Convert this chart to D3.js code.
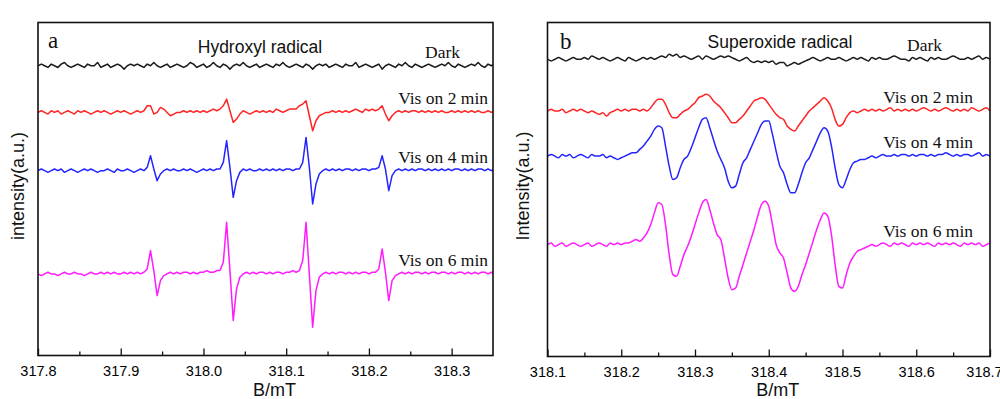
<!DOCTYPE html>
<html>
<head>
<meta charset="utf-8">
<script src="https://cdn.jsdelivr.net/npm/d3@7"></script>
<style>
  body { margin: 0; background: #fff; }
  svg { display: block; }
  .tick text { font-family: "Liberation Sans", Arial, sans-serif; font-size: 14.5px; fill: #000; }
  .tick line { stroke: #111; stroke-width: 1.3; }
  .sans { font-family: "Liberation Sans", Arial, sans-serif; fill: #111; }
  .serif { font-family: "Liberation Serif", "Times New Roman", serif; fill: #111; }
</style>
</head>
<body>
<svg id="chart" width="1000" height="399"></svg>
<script>
// ---- panel a: hydroxyl radical (DMPO-OH), sweep 317.8 mT, 0.004 mT per point
const fieldStartA = 317.8;
const fieldStepA = 0.004;
const seriesNames = ["Dark", "Vis on 2 min", "Vis on 4 min", "Vis on 6 min"];
const seriesColors = ["#1a1a1a", "#ff2424", "#2424ff", "#ff1aff"];
const offsetsA = [174, 146, 111, 49];
const darkA = [
  0, 1, 0, -1, 1, 0, -1, 1, 2, 0,
  -1, 0, 1, 0, -1, 1, 0, 0, 2, -1,
  0, 1, -1, 0, 1, 0, -2, 0, 1, 0,
  1, 0, -1, 1, 0, 2, 0, -1, 0, 1,
  -1, 0, 1, 0, -1, 0, 2, 1, -1, 0,
  1, -1, 0, 2, 0, -1, 1, 0, -2, 0,
  1, 0, 2, 0, -1, 0, 1, -1, 0, 1,
  0, -1, 1, 0, 2, 0, -1, 0, 1, 0,
  -1, 1, 0, -2, 0, 1, 0, 1, -1, 0,
  1, 0, -1, 1, 0, 0, 2, -1, 0, 1,
  0, -1, 0, 1, -2, 0, 1, 0, -1, 1,
  0, 2, 0, -1, 1, 0, -1, 0, 1, 0,
  -1, 0, 1, 0, 2, 0, -1, 1, 0, -1,
  0, 1, 0, 2, 0, -1, 1, 0, 1
];
const vis2A = [
  0, 1, 0, -1, 1, 0, 1, -1, 0, 1,
  0, -1, 1, 0, 1, 0, -1, 0, 1, 0,
  1, 0, -1, 0, 1, 0, 1, 0, -1, 0,
  1, 0, 1, 4, 4, -1, 0, 3, 2, 0,
  -2, -1, 0, 0, 1, 0, 1, 0, 1, 0,
  1, 0, 1, 2, 1, 2, 4, 8, 1, -6,
  -4, -1, 1, 0, -1, 0, 1, 0, 1, 0,
  1, 0, 2, 1, 0, 1, 2, 2, 2, 4,
  5, 7, -2, -11, -5, -2, -1, 0, 0, 1,
  0, 1, 0, 1, 0, 1, 2, 1, 0, 2,
  1, 2, 1, 2, 4, -1, -5, -2, 0, 1,
  0, 1, 0, 1, 1, 0, 1, 0, 1, 0,
  1, 0, 1, 0, 0, 1, 0, 1, 0, 1,
  0, 1, 0, 1, 0, 0, 1, 0, 1
];
const vis4A = [
  0, 1, 0, -1, 0, 1, 0, 1, -1, 0,
  1, 0, -1, 0, 1, 0, 1, 0, -1, 0,
  0, 1, 0, -1, 1, 0, 0, 1, 0, -1,
  0, 1, 0, 2, 9, 1, -6, -2, 0, 1,
  0, 1, 0, 0, 1, 0, 1, 0, -1, 0,
  1, 0, 1, 0, 1, 1, 5, 18, 2, -16,
  -6, -1, 1, 0, 1, 0, 0, 1, 0, 1,
  0, 1, 0, 1, 0, 1, 1, 0, 1, 1,
  5, 20, 2, -20, -8, -2, 0, 1, 0, 1,
  0, 1, 0, 1, 1, 0, 1, 0, 1, 1,
  0, 1, 1, 2, 9, 1, -12, -3, 0, 1,
  0, 1, 0, 1, 0, 1, 1, 0, 1, 0,
  1, 0, 1, 0, 1, 0, 1, 1, 0, 1,
  0, 1, 0, 1, 1, 0, 1, 0, 1
];
const vis6A = [
  0, -1, 0, 1, 0, 0, -1, 0, 1, 0,
  0, 1, 0, 0, -1, 0, 1, 0, 0, 1,
  0, 1, 0, 1, 0, 0, 1, 0, 1, 0,
  1, 0, 1, 3, 14, 2, -13, -4, -1, 0,
  1, 0, 1, 0, 1, 1, 0, 1, 0, 1,
  1, 2, 1, 1, 2, 2, 7, 31, 2, -28,
  -9, -2, 0, 1, 0, 1, 0, 1, 1, 0,
  1, 0, 1, 1, 0, 1, 1, 2, 1, 2,
  8, 31, 0, -32, -10, -2, 0, 1, 0, 1,
  0, 1, 1, 0, 1, 0, 1, 0, 1, 1,
  0, 1, 1, 3, 15, 1, -16, -4, -1, 0,
  1, 0, 1, 0, 1, 1, 0, 1, 0, 1,
  1, 0, 1, 1, 0, 1, 0, 1, 1, 0,
  1, 0, 1, 0, 1, 1, 0, 1, 0
];
const ticksA = [317.8, 317.9, 318.0, 318.1, 318.2, 318.3];
const minorTicksA = [317.85, 317.95, 318.05, 318.15, 318.25];

// ---- panel b: superoxide radical (DMPO-OOH), sweep 318.1 mT, 0.005 mT per point
const fieldStartB = 318.1;
const fieldStepB = 0.005;
const offsetsB = [178, 147, 120, 67];
const darkB = [
  0, -1, 0, 1, 0, -1, 0, 1, 0, 0,
  1, 0, 2, 1, 0, 1, 0, -1, 0, 1,
  0, -1, 1, 0, -1, 0, 1, 0, 1, 0,
  1, 2, 1, 3, 2, 3, 1, 2, 1, 0,
  1, 2, 0, 2, 1, 0, 1, 2, 1, 2,
  1, 0, -1, 0, 1, -1, -2, -1, -2, -1,
  -2, -1, -3, -2, -2, -4, -3, -2, -3, -2,
  -1, 0, 1, 0, -1, 0, 1, 0, 0, 1,
  0, -1, 0, 1, 0, 1, 0, -1, 1, 0,
  1, 0, 0, 1, 2, 1, 0, 0, -1, 1,
  0, 1, 0, -1, 1, 0, 1, 0, 0, 1,
  2, 1, 0, 0, 1, 0, 1, 2, 0, 1, 0
];
const vis2B = [
  0, 1, 0, 0, 1, -1, 0, 1, 0, 1,
  0, -1, 0, -1, -2, -1, -3, -1, 0, 1,
  0, 1, 0, 1, 1, 0, 1, 0, 2, 5,
  7, 7, 4, -1, -4, -4, -2, 0, 1, 3,
  5, 8, 9, 10, 9, 6, 4, 2, -1, -4,
  -7, -7, -5, -3, 0, 3, 6, 7, 8, 7,
  4, 1, -2, -4, -5, -9, -11, -12, -9, -6,
  -3, 0, 2, 4, 6, 8, 6, 2, -5, -9,
  -8, -4, -1, 0, -1, 0, 1, 0, 1, 0,
  1, 0, 1, 2, 0, 1, 0, 1, 0, 1,
  0, 1, 2, 1, 0, 1, 0, 1, 2, 1,
  0, 1, 0, 1, 0, 2, 1, 0, 1, 2, 0
];
const vis4B = [
  0, 1, 0, -1, 1, 0, 1, -1, 0, 1,
  0, -1, 1, 0, 0, 1, -1, 0, -1, -2,
  -1, 0, 1, 2, 2, 4, 6, 9, 12, 16,
  18, 17, 6, -6, -14, -13, -7, -2, 0, 5,
  11, 17, 22, 23, 17, 10, 3, -2, -7, -15,
  -19, -18, -11, -4, -1, 4, 9, 14, 19, 21,
  21, 13, 3, -6, -10, -17, -22, -22, -17, -10,
  -4, -1, 4, 9, 14, 17, 15, 6, -7, -17,
  -19, -14, -8, -4, -3, -2, -2, -1, 0, -1,
  0, 1, 0, 0, 1, 0, 1, 1, 0, 1,
  0, 1, 1, 0, 1, 0, 1, 1, 2, 1,
  0, 1, 0, 1, 1, 0, 1, 2, 0, 1, 0
];
const vis6B = [
  0, 1, -1, 0, 1, -1, 0, 1, 0, -1,
  0, 1, -1, 0, 1, 0, -1, 1, 0, 1,
  0, 1, 1, 2, 3, 2, 4, 7, 12, 19,
  25, 24, 12, -6, -18, -19, -13, -6, -1, 5,
  12, 19, 25, 27, 21, 13, 6, 3, -8, -20,
  -27, -26, -19, -12, -5, 2, 9, 17, 24, 26,
  23, 12, 0, -5, -8, -17, -26, -28, -25, -18,
  -12, -5, 2, 9, 15, 19, 17, 6, -12, -25,
  -26, -18, -11, -7, -4, -3, -2, -1, 0, -1,
  0, 1, 0, -1, 1, 0, 1, 0, -1, 1,
  0, 1, 0, 1, 0, -1, 1, 0, 1, 0,
  1, 0, -1, 1, 0, 1, 0, 1, -1, 0, 1
];
const ticksB = [318.1, 318.2, 318.3, 318.4, 318.5, 318.6, 318.7];
const minorTicksB = [318.15, 318.25, 318.35, 318.45, 318.55, 318.65];

const panels = [
  {
    id: "a", letter: "a", title: "Hydroxyl radical", yTitle: "intensity(a.u.)",
    start: fieldStartA, step: fieldStepA, domain: [317.8, 318.35],
    offsets: offsetsA, series: [darkA, vis2A, vis4A, vis6A],
    ticks: ticksA, minor: minorTicksA, curve: d3.curveLinear,
    box: { left: 38, right: 493, top: 22.5, bottom: 355.5 },
    letterX: 48, letterY: 48, titleX: 260, titleY: 53, yTitleX: 18,
    labelRight: 488, darkRight: 460
  },
  {
    id: "b", letter: "b", title: "Superoxide radical", yTitle: "Intensity(a.u.)",
    start: fieldStartB, step: fieldStepB, domain: [318.1, 318.7],
    offsets: offsetsB, series: [darkB, vis2B, vis4B, vis6B],
    ticks: ticksB, minor: minorTicksB, curve: d3.curveMonotoneX,
    box: { left: 547.5, right: 990, top: 22.5, bottom: 356.5 },
    letterX: 560, letterY: 49, titleX: 780, titleY: 48, yTitleX: 523,
    labelRight: 973, darkRight: 942
  }
];

const svg = d3.select("#chart");

panels.forEach(p => {
  const b = p.box;
  const x = d3.scaleLinear().domain(p.domain).range([b.left, b.right]);
  const y = d3.scaleLinear().domain([0, 200]).range([b.bottom, b.top]);
  const g = svg.append("g").attr("id", "panel-" + p.id);

  g.append("clipPath").attr("id", "clip-" + p.id)
    .append("rect")
    .attr("x", b.left).attr("y", b.top)
    .attr("width", b.right - b.left).attr("height", b.bottom - b.top);

  // spectra
  p.series.forEach((vals, k) => {
    const line = d3.line()
      .x((d, i) => x(p.start + i * p.step))
      .y(d => y(p.offsets[k] + d))
      .curve(p.curve);
    g.append("path")
      .attr("clip-path", `url(#clip-${p.id})`)
      .attr("d", line(vals))
      .attr("fill", "none")
      .attr("stroke", seriesColors[k])
      .attr("stroke-width", 1.5)
      .attr("stroke-linejoin", "round");
  });

  // inward ticks, major then minor
  const axis = g.append("g").attr("transform", `translate(0,${b.bottom})`);
  axis.call(d3.axisBottom(x).tickValues(p.ticks).tickSize(-7).tickPadding(10)
    .tickFormat(d3.format(".1f")));
  axis.append("g").call(d3.axisBottom(x).tickValues(p.minor).tickSize(-4).tickFormat(""));
  axis.selectAll(".domain").remove();
  // last label of panel b sits partly past the page edge, as in the source
  if (p.id === "b") axis.selectAll(".tick text").filter(d => d === 318.7).attr("dx", -6);

  // frame
  g.append("rect")
    .attr("x", b.left).attr("y", b.top)
    .attr("width", b.right - b.left).attr("height", b.bottom - b.top)
    .attr("fill", "none").attr("stroke", "#111").attr("stroke-width", 1.6);

  // texts
  g.append("text").attr("class", "serif")
    .attr("x", p.letterX).attr("y", p.letterY)
    .style("font-size", "23px").text(p.letter);
  g.append("text").attr("class", "sans")
    .attr("x", p.titleX).attr("y", p.titleY)
    .attr("text-anchor", "middle").style("font-size", "17.5px").text(p.title);
  g.append("text").attr("class", "sans")
    .attr("transform", `translate(${p.yTitleX},186) rotate(-90)`)
    .attr("text-anchor", "middle").attr("dy", "0.35em")
    .style("font-size", "18px").text(p.yTitle);
  g.append("text").attr("class", "sans")
    .attr("x", (b.left + b.right) / 2 + 9).attr("y", 396)
    .attr("text-anchor", "middle").style("font-size", "18px").text("B/mT");

  seriesNames.forEach((name, k) => {
    g.append("text").attr("class", "serif")
      .attr("x", k === 0 ? p.darkRight : p.labelRight)
      .attr("y", y(p.offsets[k]) - 8)
      .attr("text-anchor", "end")
      .style("font-size", "17.5px")
      .text(name);
  });
});
</script>
</body>
</html>
